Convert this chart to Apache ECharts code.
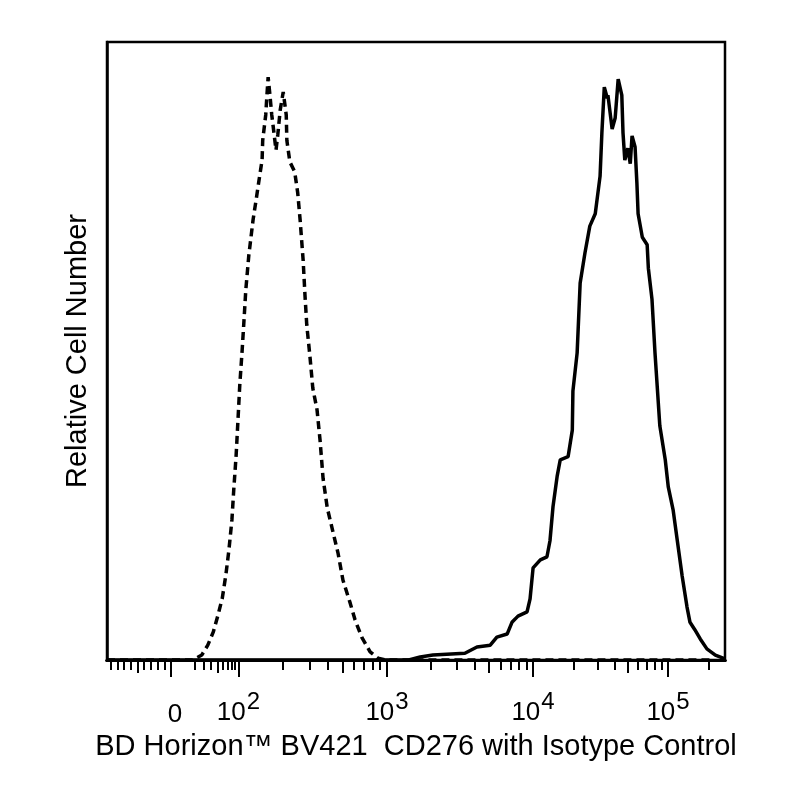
<!DOCTYPE html>
<html>
<head>
<meta charset="utf-8">
<script src="https://cdn.jsdelivr.net/npm/echarts@6/dist/echarts.min.js"></script>
<style>
html,body{margin:0;padding:0;background:#fff;}
#chart{width:800px;height:800px;}
</style>
</head>
<body>
<div id="chart"></div>
<script>
// ---- Data (x in display channel units 0..1024 of the biexponential scale, y = relative count) ----
const isotypeChannel = [0,142,157,167,176,184,191,197,202,207,210,214,217,220,224,227,230,235,242,247,252,257,258,263,265,267,270,273,277,280,283,287,292,297,298,303,311,316,320,325,328,331,336,341,348,353,358,365,374,383,391,403,411,422,436,449,461,600,800,1000];
const isotypeCount   = [0,0,0.8,2.4,4.5,7.3,10.0,13.8,17.8,22.7,27.5,33.2,38.8,44.5,50.2,55.0,59.9,65.5,71.2,74.4,77.7,80.9,84.1,88.2,91.4,94.3,91.4,88.2,85.0,82.5,85.0,89.0,91.9,88.2,84.1,80.6,79.0,75.6,71.2,64.7,59.1,54.2,49.4,44.0,40.5,35.6,29.4,24.6,20.9,17.2,12.9,9.2,6.5,3.7,1.3,0.3,0,0,0,0];

const cd276Channel = [0,500,519,540,593,613,635,646,663,671,681,696,701,706,718,729,734,739,746,751,764,771,772,779,784,792,800,809,817,820,824,829,830,837,842,847,853,855,858,863,867,870,875,878,880,887,895,897,903,908,911,916,925,930,938,945,953,961,966,974,983,994,1008,1024];
const cd276Count   = [0,0,0.5,0.8,1.1,2.1,2.4,3.7,4.2,6.1,7.1,7.8,9.9,14.9,16.2,16.7,19.3,24.8,29.8,32.4,32.9,37.2,43.5,49.7,61.0,65.9,70.2,72.2,78.3,85.3,92.7,90.9,91.4,85.9,87.7,94.0,91.4,85.3,80.9,82.8,80.3,84.8,83.0,77.2,72.2,68.4,67.2,63.4,58.4,49.7,45.3,37.9,32.4,28.0,24.3,19.3,13.6,8.6,6.1,4.9,3.4,1.8,0.8,0.2];

// ---- Tick definitions (intensity values) ----
const majorTickValues = [0, 100, 1000, 10000, 100000];
const majorTickLabels = ['{z|0}', '{b|10}{s|2}', '{b|10}{s|3}', '{b|10}{s|4}', '{b|10}{s|5}'];
const mediumTickValues = [-50, 50, 500, 5000, 50000];
const minorMultipliers = [2, 3, 4, 6, 7, 8, 9];
const negativeMinorValues = [-90, -80, -70, -60, -40, -30, -20, -10];
const lowMinorValues = [20, 30, 40, 60, 70, 80, 90];

// ---- Biexponential display scale: intensity -> channel (0..1024) ----
const CH0 = 106, CH100 = 217.9;
const decadeAnchors = [[2, 217.9], [3, 464.0], [4, 705.9], [5, 929.6]];
function toChannel(v) {
  if (v < 0) return CH0 + v * 1.11;
  if (v <= 100) return CH0 + (CH100 - CH0) * Math.asinh(v / 25) / Math.asinh(4);
  const L = Math.log10(v);
  for (let i = 0; i < decadeAnchors.length - 1; i++) {
    const [l0, c0] = decadeAnchors[i], [l1, c1] = decadeAnchors[i + 1];
    if (L <= l1) return c0 + (L - l0) * (c1 - c0);
  }
  const [la, ca] = decadeAnchors[decadeAnchors.length - 2], [lb, cb] = decadeAnchors[decadeAnchors.length - 1];
  return cb + (L - lb) * (cb - ca);
}

const minorValues = negativeMinorValues.concat(lowMinorValues);
[100, 1000, 10000, 100000].forEach(d => minorMultipliers.forEach(m => { if (m * d <= 262144) minorValues.push(m * d); }));

const majorCh = majorTickValues.map(toChannel);
const mediumCh = mediumTickValues.map(toChannel);
const minorCh = minorValues.map(toChannel);

function zip(a, b) { return a.map((x, i) => [x, b[i]]); }

const FONT = 'Liberation Sans, Arial, sans-serif';
const chart = echarts.init(document.getElementById('chart'), null, { renderer: 'canvas' });

function tickAxis(values, len, showLabels) {
  return {
    type: 'value', min: 0, max: 1024, position: 'bottom',
    axisLine: { show: true, onZero: false, lineStyle: { color: '#000', width: 3 } },
    axisTick: { show: true, customValues: values, length: len, lineStyle: { color: '#000', width: 2 } },
    axisLabel: showLabels ? {
      show: true, customValues: values, margin: 30, color: '#000',
      formatter: function (val) {
        let best = 0, bd = Infinity;
        majorCh.forEach((c, i) => { const d = Math.abs(c - val); if (d < bd) { bd = d; best = i; } });
        return majorTickLabels[best];
      },
      rich: {
        b: { fontSize: 26, fontFamily: FONT, color: '#000', verticalAlign: 'bottom' },
        z: { fontSize: 26, fontFamily: FONT, color: '#000', verticalAlign: 'bottom', padding: [12, 0, 0, 8] },
        s: { fontSize: 24, fontFamily: FONT, color: '#000', verticalAlign: 'bottom', padding: [0, 0, 12, 1] }
      }
    } : { show: false },
    splitLine: { show: false }
  };
}

const xMain = tickAxis(majorCh, 17, true);
xMain.name = 'BD Horizon\u2122 BV421  CD276 with Isotype Control';
xMain.nameLocation = 'middle';
xMain.nameGap = 72;
xMain.nameTextStyle = { fontSize: 29, fontFamily: FONT, color: '#000' };

chart.setOption({
  backgroundColor: '#fff',
  animation: false,
  grid: { left: 107, top: 42, width: 618, height: 618, show: true, borderColor: '#000', borderWidth: 2.5, backgroundColor: 'transparent' },
  xAxis: [xMain, tickAxis(mediumCh, 13, false), tickAxis(minorCh, 10, false)],
  yAxis: {
    type: 'value', min: 0, max: 100,
    name: 'Relative Cell Number', nameLocation: 'middle', nameGap: 15,
    nameTextStyle: { fontSize: 29, fontFamily: FONT, color: '#000' },
    axisLine: { show: true, lineStyle: { color: '#000', width: 2.5 } },
    axisTick: { show: false }, axisLabel: { show: false }, splitLine: { show: false }
  },
  series: [
    {
      name: 'Isotype Control', type: 'line', xAxisIndex: 0, data: zip(isotypeChannel, isotypeCount),
      symbol: 'none', smooth: false, z: 3,
      lineStyle: { color: '#000', width: 3.5, type: [8, 5] }
    },
    {
      name: 'CD276', type: 'line', xAxisIndex: 0, data: zip(cd276Channel, cd276Count),
      symbol: 'none', smooth: false, z: 4,
      lineStyle: { color: '#000', width: 3.5, type: 'solid' }
    }
  ]
});
</script>
</body>
</html>
